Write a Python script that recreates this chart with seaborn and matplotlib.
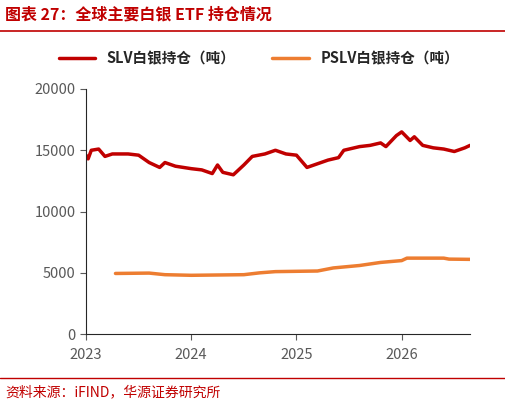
import matplotlib.pyplot as plt
import seaborn as sns
import pandas as pd

slv_t = [2023.0, 2023.02, 2023.05, 2023.12, 2023.18, 2023.25, 2023.4, 2023.5, 2023.6, 2023.7,
         2023.75, 2023.85, 2024.0, 2024.1, 2024.2, 2024.25, 2024.3, 2024.4, 2024.5, 2024.58,
         2024.7, 2024.8, 2024.9, 2025.0, 2025.1, 2025.2, 2025.3, 2025.4, 2025.45, 2025.6,
         2025.7, 2025.8, 2025.85, 2025.95, 2026.0, 2026.08, 2026.12, 2026.2, 2026.3, 2026.4,
         2026.5, 2026.6, 2026.65]
slv_v = [14600, 14300, 15000, 15100, 14500, 14700, 14700, 14600, 14000, 13600,
         14000, 13700, 13500, 13400, 13100, 13800, 13200, 13000, 13800, 14500,
         14700, 15000, 14700, 14600, 13600, 13900, 14200, 14400, 15000, 15300,
         15400, 15600, 15300, 16200, 16500, 15800, 16100, 15400, 15200, 15100,
         14900, 15200, 15400]
pslv_t = [2023.28, 2023.6, 2023.75, 2024.0, 2024.5, 2024.65, 2024.8, 2025.2, 2025.35,
          2025.6, 2025.8, 2026.0, 2026.05, 2026.4, 2026.45, 2026.65]
pslv_v = [4950, 4980, 4850, 4800, 4850, 5000, 5100, 5150, 5400,
          5600, 5850, 6000, 6200, 6200, 6120, 6100]

sns.set_style("ticks")
plt.rcParams['font.family'] = ['Noto Sans CJK SC', 'DejaVu Sans']

fig = plt.figure(figsize=(5.06, 4.12), dpi=100)
ax = fig.add_axes([0.17, 0.189, 0.759, 0.595])

df1 = pd.DataFrame({"t": slv_t, "v": slv_v})
df2 = pd.DataFrame({"t": pslv_t, "v": pslv_v})
sns.lineplot(data=df1, x="t", y="v", ax=ax, color="#C00000", lw=2.5, label="SLV白银持仓（吨）")
sns.lineplot(data=df2, x="t", y="v", ax=ax, color="#ED7D31", lw=2.5, label="PSLV白银持仓（吨）")

ax.set_xlim(2023, 2026.65)
ax.set_ylim(0, 20000)
ax.set_xticks([2023, 2024, 2025, 2026])
ax.set_xticklabels(["2023", "2024", "2025", "2026"])
ax.set_yticks(range(0, 20001, 5000))
ax.set_xlabel("")
ax.set_ylabel("")
ax.tick_params(labelsize=10.5, colors="#595959", length=4)
ax.tick_params(axis="x", pad=6)
for s in ["top", "right"]:
    ax.spines[s].set_visible(False)
ax.legend(loc="lower center", bbox_to_anchor=(0.45, 1.04), ncol=2, frameon=False,
          fontsize=10.5, handlelength=2.5, columnspacing=2.5,
          prop={"weight": "bold", "size": 10.5})

fig.text(0.01, 0.965, "图表 27：全球主要白银 ETF 持仓情况", color="#C00000",
         fontsize=11.5, weight="bold", va="center")
fig.add_artist(plt.Line2D([0.0, 1.0], [0.925, 0.925], color="#C00000", lw=1.2))
fig.add_artist(plt.Line2D([0.0, 1.0], [0.083, 0.083], color="#C00000", lw=1.0))
fig.text(0.01, 0.048, "资料来源：iFIND，华源证券研究所", color="#C00000", fontsize=10, va="center")

fig.savefig("out.png", dpi=100)
